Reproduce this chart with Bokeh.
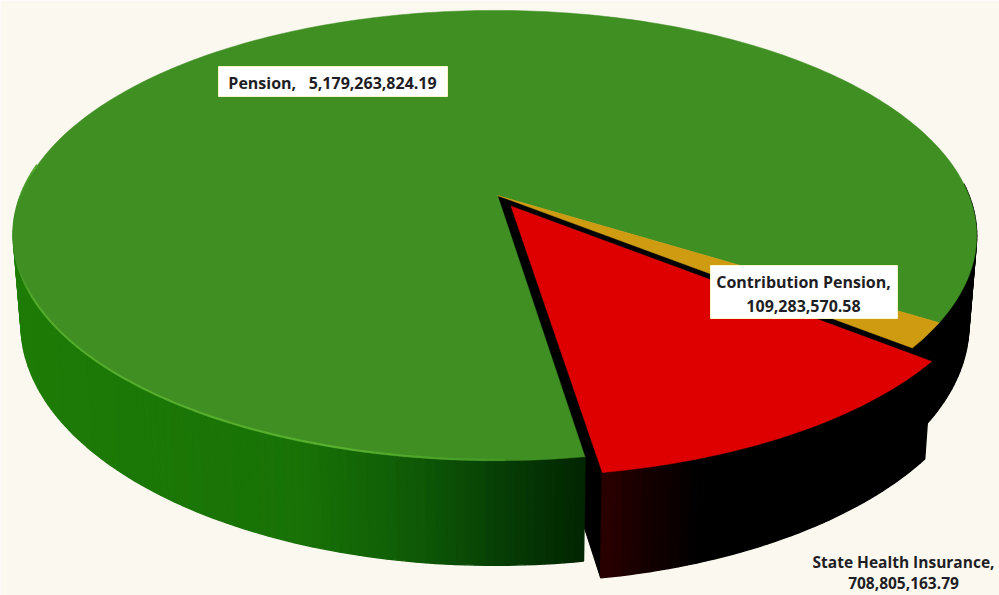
import math
from bokeh.plotting import figure
from bokeh.embed import file_html
from bokeh.resources import INLINE
from bokeh.core.properties import value

categories = ["Pension", "Contribution Pension", "State Health Insurance"]
amounts = [5179263824.19, 109283570.58, 708805163.79]
tops = ["#3F8F23", "#CF9B10", "#DE0000"]
START = 171.0            # clockwise from twelve o'clock, first slice start

X0, Y0, A, B, K = 494.5, 195.0, 218.0, 474.0, 0.178
APEX_DX = 2.5            # the far centre sits slightly right of the rim's centre
DEPTH, XS, EXPL = 86.0, 0.984, 0.056
BG = "#FBF8F0"

W, H = 999, 595
p = figure(width=W, height=H, x_range=(0, W), y_range=(H, 0),
           output_backend="svg", toolbar_location=None, min_border=0,
           background_fill_color=BG, border_fill_color=BG)
p.axis.visible = False
p.grid.visible = False
p.outline_line_color = None


def top(u, v):
    d = 1 - K * v
    return X0 + B * u / d, Y0 + A * v / d


def bottom(u, v):
    d = 1 - K * v
    x, y = top(u, v)
    return X0 + (x - X0) * XS, y + DEPTH / d


def rim(t, ou=0.0, ov=0.0):
    r = math.radians(t)
    return math.sin(r) + ou, -math.cos(r) + ov


def arange(a, b, step=1.0):
    n = max(2, int(abs(b - a) / step) + 1)
    return [a + (b - a) * i / (n - 1) for i in range(n)]


def lerp(stops, x):
    if x <= stops[0][0]:
        return "#%02x%02x%02x" % stops[0][1]
    for (x1, c1), (x2, c2) in zip(stops, stops[1:]):
        if x <= x2:
            f = (x - x1) / (x2 - x1)
            return "#%02x%02x%02x" % tuple(round(a + (b - a) * f) for a, b in zip(c1, c2))
    return "#%02x%02x%02x" % stops[-1][1]


def side(a, b, stops, ou=0.0, ov=0.0):
    ts = arange(a, b)
    xs, ys, cs = [], [], []
    for t1, t2 in zip(ts, ts[1:]):
        u1, v1 = rim(t1, ou, ov)
        u2, v2 = rim(t2, ou, ov)
        p1, p2 = top(u1, v1), top(u2, v2)
        q1, q2 = bottom(u1, v1), bottom(u2, v2)
        xs.append([p1[0], p2[0], q2[0], q1[0]])
        ys.append([p1[1], p2[1], q2[1], q1[1]])
        cs.append(lerp(stops, (p1[0] + p2[0]) / 2))
    p.patches(xs, ys, fill_color=cs, line_color=cs, line_width=1.4)


total = sum(amounts)
sweeps = [a / total * 360 for a in amounts]
a2 = START + sweeps[0]
a3 = a2 + sweeps[1]
a4 = a3 + sweeps[2]
g_end, y_end, r_end = a2 - 360, a3 - 360, a4 - 360
mid = math.radians((y_end + r_end) / 2)
ou, ov = EXPL * math.sin(mid), -EXPL * math.cos(mid)

# interior seen through the gap of the exploded slice
CX = X0 + APEX_DX
ap = top(ou, ov)
ap = (ap[0] + APEX_DX, ap[1])
apb = bottom(ou, ov)
ye = top(*rim(y_end))
re1 = top(*rim(y_end, ou, ov))
re2 = top(*rim(r_end, ou, ov))
re2b = bottom(*rim(r_end, ou, ov))
ge = top(*rim(r_end))
p.patch([CX, ye[0], re1[0], ap[0]], [Y0, ye[1], re1[1], ap[1]], color="#000000")
p.patch([CX, ap[0], re2[0], ge[0]], [Y0, ap[1], re2[1], ge[1]], color="#000000")
p.patch([ap[0], apb[0], re2b[0], re2[0]], [ap[1], apb[1], re2b[1], re2[1]], color="#000000")

# walls
side(g_end - 35, y_end, [(0, (0, 0, 0)), (2000, (0, 0, 0))])
side(r_end, r_end + 105,
     [(13, (30, 124, 6)), (300, (24, 114, 6)), (420, (14, 88, 6)), (500, (7, 62, 5)), (585, (2, 36, 2))])
side(y_end, r_end,
     [(600, (44, 0, 0)), (640, (24, 0, 0)), (700, (0, 0, 0))], ou, ov)

# top faces: green, yellow, red
for (a, b, col, du, dv, dx) in [(r_end, g_end + 360, tops[0], 0, 0, APEX_DX),
                                (g_end, y_end, tops[1], 0, 0, APEX_DX),
                                (y_end, r_end, tops[2], ou, ov, APEX_DX)]:
    c0 = top(du, dv)
    pts = [(c0[0] + dx, c0[1])] + [top(*rim(t, du, dv)) for t in arange(a, b)]
    p.patch([q[0] for q in pts], [q[1] for q in pts], fill_color=col, line_color=col, line_width=0.5)

# bright rim along the front left of the green slice
ts = arange(r_end + 8, r_end + 107)
rx, ry, rc = [], [], []
for t1, t2 in zip(ts, ts[1:]):
    q1, q2 = top(*rim(t1)), top(*rim(t2))
    rx.append([q1[0], q2[0]])
    ry.append([q1[1] - 1, q2[1] - 1])
    rc.append(lerp([(15, (63, 143, 35)), (35, (84, 172, 44)), (350, (88, 178, 46)), (560, (63, 143, 35))], q1[0]))
p.multi_line(rx, ry, line_color=rc, line_width=2)

# labels
p.quad(left=[218, 710], right=[447, 897], top=[66, 265], bottom=[96, 318],
       fill_color="#FFFFFF", line_color="#FBF6C8", line_width=1)


def fmt(x):
    return f"{x:,.2f}"


txt = [f"{categories[0]},\u00a0\u00a0\u00a0{fmt(amounts[0])}", f"{categories[1]},", fmt(amounts[1]),
       f"{categories[2]},", fmt(amounts[2])]
p.text([332, 803, 803], [82, 281, 305], text=txt[:3],
       text_font=value("Open Sans"), text_font_style="bold", text_font_size="16px",
       text_color="#1E1E24", text_align="center", text_baseline="middle")
p.text([903, 903], [561, 582], text=txt[3:],
       text_font=value("Open Sans"), text_font_style="bold", text_font_size="15.5px",
       text_color="#1E1E24", text_align="center", text_baseline="middle")

open("out.html", "w").write(file_html(p, INLINE))
